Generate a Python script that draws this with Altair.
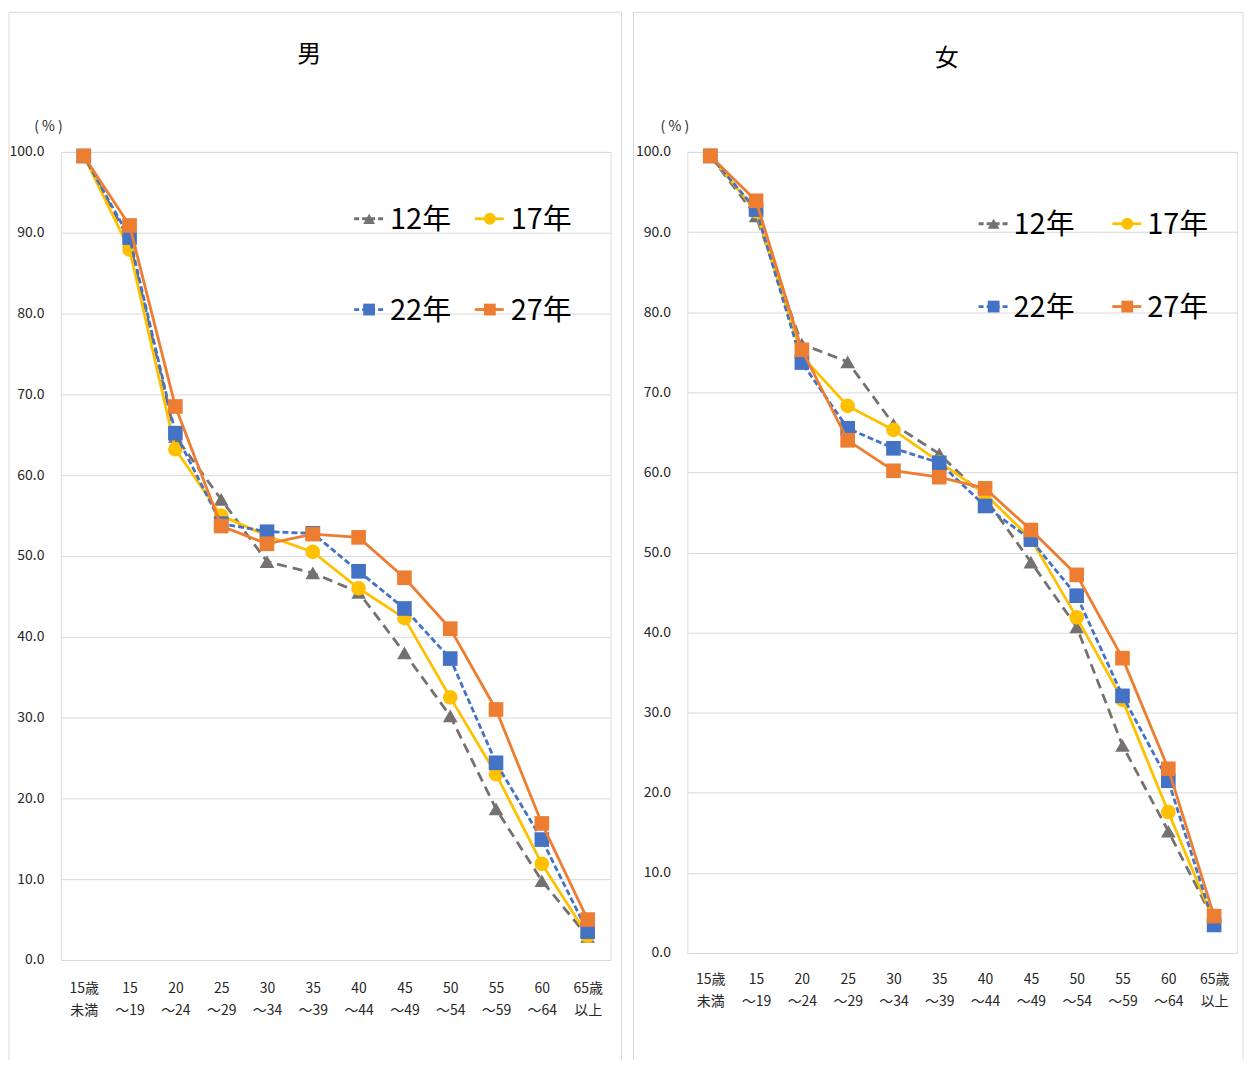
import altair as alt
import pandas as pd

AGE_LABELS = ["15歳\n未満", "15\n～19", "20\n～24", "25\n～29", "30\n～34", "35\n～39",
              "40\n～44", "45\n～49", "50\n～54", "55\n～59", "60\n～64", "65歳\n以上"]
YEARS = ["12年", "17年", "22年", "27年"]

MALE_12 = [99.5, 89.0, 64.8, 57.0, 49.3, 47.9, 45.5, 38.0, 30.2, 18.7, 9.8, 2.9]
MALE_17 = [99.5, 87.9, 63.2, 55.0, 52.5, 50.5, 46.0, 42.3, 32.5, 23.0, 11.9, 3.0]
MALE_22 = [99.5, 89.4, 65.2, 54.0, 53.0, 52.8, 48.1, 43.5, 37.3, 24.4, 14.9, 3.5]
MALE_27 = [99.5, 90.9, 68.5, 53.7, 51.5, 52.7, 52.3, 47.3, 41.0, 31.0, 16.9, 5.0]

FEMALE_12 = [99.5, 92.0, 76.0, 73.8, 66.0, 62.3, 56.8, 48.8, 40.7, 25.9, 15.2, 4.0]
FEMALE_17 = [99.5, 92.6, 74.5, 68.3, 65.3, 61.3, 57.3, 51.7, 41.9, 31.6, 17.6, 3.9]
FEMALE_22 = [99.5, 92.8, 73.7, 65.5, 63.0, 61.2, 55.8, 51.6, 44.6, 32.1, 21.5, 3.5]
FEMALE_27 = [99.5, 93.9, 75.3, 64.0, 60.2, 59.4, 58.0, 52.8, 47.2, 36.8, 23.0, 4.6]

MALE = [MALE_12, MALE_17, MALE_22, MALE_27]
FEMALE = [FEMALE_12, FEMALE_17, FEMALE_22, FEMALE_27]

COLORS = ["#767171", "#FFC000", "#4472C4", "#ED7D31"]
SHAPES = ["triangle-up", "circle", "square", "square"]
DASHES = [[10, 6], None, [6, 3], None]

FONT = "Noto Sans CJK JP"
GRID = "#d9d9d9"
TEXT = "#262626"


def long_df(series_list):
    rows = []
    for year, vals in zip(YEARS, series_list):
        for age, v in zip(AGE_LABELS, vals):
            rows.append({"age": age, "year": year, "value": v})
    return pd.DataFrame(rows)


def panel(series_list, title, height, title_pos, legend_cols, legend_rows, border, text_off,
          xpad):
    df = long_df(series_list)
    x = alt.X("age:N", sort=AGE_LABELS,
              scale=alt.Scale(type="point", padding=0.5),
              axis=alt.Axis(title=None, labelAngle=0, labelExpr="split(datum.label, '\\n')",
                            labelFontSize=14, labelLineHeight=22, labelPadding=xpad,
                            labelColor=TEXT, ticks=False, domain=True, domainColor=GRID,
                            grid=False, labelFont=FONT))
    y = alt.Y("value:Q", scale=alt.Scale(domain=[0, 100], nice=False, zero=True),
              axis=alt.Axis(values=list(range(0, 101, 10)), format=".1f", grid=True,
                            gridColor=GRID, gridWidth=1, domain=False, ticks=False,
                            labelPadding=17, labelFontSize=14, labelColor=TEXT, labelFont=FONT,
                            title="( % )", titleAngle=0, titleX=-13, titleY=-25,
                            titleFontSize=14, titleFontWeight="normal", titleAlign="center",
                            titleBaseline="middle", titleColor=TEXT, titleFont=FONT))
    base = alt.Chart(df)
    one = alt.Chart(pd.DataFrame({"k": [0]}))
    layers = []
    for i, year in enumerate(YEARS):
        lk = dict(color=COLORS[i], strokeWidth=2.8)
        if DASHES[i]:
            lk["strokeDash"] = DASHES[i]
        s = base.transform_filter(alt.datum.year == year)
        layers.append(s.mark_line(**lk).encode(x=x, y=y))
        layers.append(s.mark_point(shape=SHAPES[i], filled=True, size=215, color=COLORS[i],
                                   opacity=1).encode(x=x, y=y))
    # legend
    for i, year in enumerate(YEARS):
        lx = legend_cols[i % 2]
        ly = legend_rows[i // 2]
        rk = dict(color=COLORS[i], strokeWidth=2.8)
        if DASHES[i]:
            rk["strokeDash"] = [5, 3]
        layers.append(one.mark_rule(**rk).encode(x=alt.value(lx), x2=alt.value(lx + 29),
                                                 y=alt.value(ly)))
        layers.append(one.mark_point(shape=SHAPES[i], filled=True, size=140, color=COLORS[i],
                                     opacity=1).encode(x=alt.value(lx + 15), y=alt.value(ly)))
        layers.append(one.mark_text(align="left", baseline="middle", fontSize=29, color="#000000",
                                    font=FONT).encode(x=alt.value(lx + text_off),
                                                      y=alt.value(ly + 1),
                                                      text=alt.value(year)))
    # title
    layers.append(one.mark_text(align="center", baseline="middle", fontSize=24, color="#000000",
                                font=FONT).encode(x=alt.value(title_pos[0]),
                                                  y=alt.value(title_pos[1]),
                                                  text=alt.value(title)))
    # panel border (left, top, right)
    bl, br, bt, bb = border
    bk = dict(color=GRID, strokeWidth=1)
    layers.append(one.mark_rule(**bk).encode(x=alt.value(bl), y=alt.value(bt), y2=alt.value(bb)))
    layers.append(one.mark_rule(**bk).encode(x=alt.value(bl), x2=alt.value(br), y=alt.value(bt)))
    layers.append(one.mark_rule(**bk).encode(x=alt.value(br), y=alt.value(bt), y2=alt.value(bb)))
    return alt.layer(*layers).properties(width=551, height=height)


left = panel(MALE, "男", 810, (249, -97), [294, 415], [67, 158], (-52, 562, -140, 910), 36, 22)
right = panel(FEMALE, "女", 803, (260, -93), [292, 426], [72, 155], (-54, 557, -140, 910), 35, 20)

chart = alt.hconcat(left, right, spacing=10).properties(
    padding={"left": 0, "top": 2, "right": 0, "bottom": 0}
).configure_view(strokeWidth=0).configure(font=FONT)

chart.save("out.html", embed_options={"renderer": "svg", "actions": False})
